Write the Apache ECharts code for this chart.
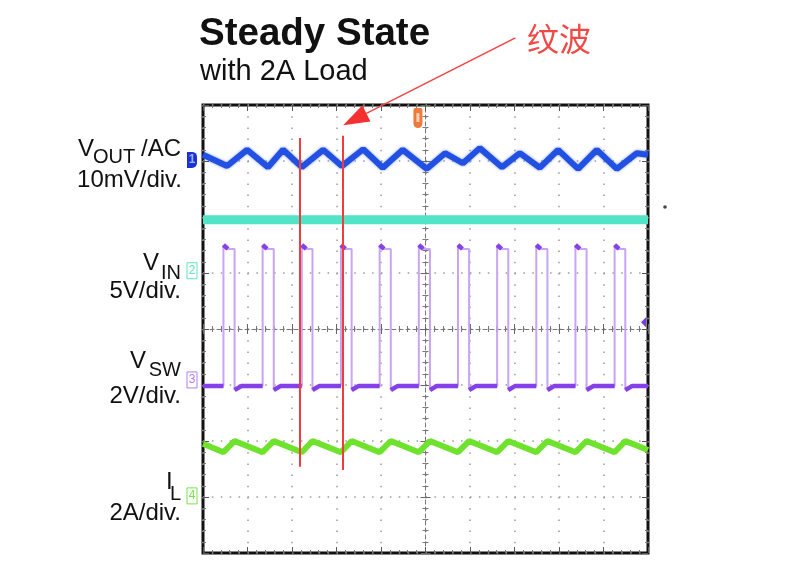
<!DOCTYPE html>
<html>
<head>
<meta charset="utf-8">
<title>Steady State</title>
<script src="https://cdn.jsdelivr.net/npm/echarts@6/dist/echarts.min.js"></script>
<style>
  html, body { margin: 0; padding: 0; background: #fff; }
  #chart { width: 790px; height: 565px; }
</style>
</head>
<body>
<div id="chart"></div>
<script>
// x: divisions from screen centre (10 div wide), y: divisions from centre (8 div tall)
const voutT = [-5.00, -4.46, -4.01, -3.54, -3.20, -2.78, -2.30, -1.88, -1.40, -0.96, -0.51, 0.03,
  0.44, 0.84, 1.22, 1.72, 2.12, 2.57, 2.98, 3.43, 3.85, 4.30, 4.75, 5.00]
const voutY = [3.11, 2.91, 3.20, 2.89, 3.20, 2.89, 3.20, 2.91, 3.21, 2.88, 3.20, 2.86,
  3.14, 2.96, 3.23, 2.89, 3.14, 2.88, 3.20, 2.86, 3.20, 2.86, 3.14, 3.11]
const vinLevel = 1.95

// switch node edges
const swRise = [-4.54, -3.66, -2.78, -1.90, -1.03, -0.15, 0.73, 1.61, 2.49, 3.37, 4.25]
const swFall = [-4.29, -3.41, -2.54, -1.66, -0.78, 0.10, 0.98, 1.86, 2.74, 3.62, 4.49]
const swLow = -1.02, swHigh = 1.43, swSpike = 1.50, swUnder = -1.09

// inductor current
const ilPeak = -2.00, ilValley = -2.20, ilStart = -2.05, ilEnd = -2.16

// channel reference markers 1..4
const chRef = [3.02, 1.04, -0.91, -2.98]

// red cursors + arrow
const cursorX = [-2.82, -1.85]
const cursorTop = [3.41, 3.45]
const cursorBottom = [-2.46, -2.52]
const arrowTip = [-1.85, 3.64]
const arrowTail = [2.02, 5.20]

const chart = echarts.init(document.getElementById('chart'))

const voutData = voutT.map((t, i) => [t, voutY[i]])
const vinData = [[-5, vinLevel], [5, vinLevel]]

const swLine = [[-5, swLow]]
swRise.forEach((r, i) => {
  const f = swFall[i]
  swLine.push([r, swLow], [r, swSpike], [r + 0.06, swHigh], [f, swHigh], [f, swUnder], [f + 0.15, swLow])
})
swLine.push([5, swLow])

// bold parts of the switch trace (flat low + top corner)
const swBold = [[-5, swLow], [swRise[0], swLow], [swRise[0], null]]
swRise.forEach((r, i) => {
  const f = swFall[i]
  const next = i + 1 < swRise.length ? swRise[i + 1] : 5
  swBold.push([r, swSpike], [r + 0.1, swHigh], [r + 0.1, null])
  swBold.push([f, swUnder], [f + 0.15, swLow], [next, swLow], [next, null])
})

const ilData = [[-5, ilStart]]
swRise.forEach((r, i) => {
  ilData.push([r, ilValley], [swFall[i], ilPeak])
})
ilData.push([5, ilEnd])

const dotGrid = { color: '#9a9a9a', width: 1.5 }
const frameTick = { show: true, inside: true, length: 6, lineStyle: { color: '#555', width: 1 } }
const frameMinor = { show: true, splitNumber: 5, length: 3, lineStyle: { color: '#777', width: 1 } }

function frameAxis(pos, split) {
  const vertical = pos === 'left' || pos === 'right'
  return {
    type: 'value', min: vertical ? -4 : -5, max: vertical ? 4 : 5, interval: 1, position: pos,
    axisLine: { show: false, onZero: false },
    axisTick: frameTick, minorTick: frameMinor,
    axisLabel: { show: false },
    splitLine: split
  }
}
function centreAxis(dim, inside, showLine) {
  return {
    type: 'value', min: dim === 'y' ? -4 : -5, max: dim === 'y' ? 4 : 5, interval: 1,
    position: dim === 'y' ? 'left' : 'bottom',
    axisLine: { show: showLine, onZero: true, lineStyle: { color: '#777', width: 1, type: [4, 3] } },
    axisTick: { show: true, inside: inside, length: 5, lineStyle: { color: '#666', width: 1 } },
    minorTick: { show: true, splitNumber: 5, length: 3, lineStyle: { color: '#777', width: 1 } },
    axisLabel: { show: false },
    splitLine: { show: false }
  }
}

chart.setOption({
  animation: false,
  backgroundColor: '#fff',
  grid: {
    left: 203, right: 142, top: 105, bottom: 12,
    show: true, borderColor: '#111', borderWidth: 3, backgroundColor: '#fff'
  },
  xAxis: [
    frameAxis('bottom', { show: true, lineStyle: Object.assign({ type: [1.5, 9.7] }, dotGrid) }),
    frameAxis('top', { show: false }),
    centreAxis('x', true, true),
    centreAxis('x', false, false)
  ],
  yAxis: [
    frameAxis('left', { show: true, lineStyle: Object.assign({ type: [1.5, 7.4] }, dotGrid) }),
    frameAxis('right', { show: false }),
    centreAxis('y', true, true),
    centreAxis('y', false, false)
  ],
  series: [
    {
      name: 'VIN', type: 'line', data: vinData, symbol: 'none', silent: true,
      lineStyle: { color: '#52e4c6', width: 9 }
    },
    {
      name: 'VOUT', type: 'line', data: voutData, symbol: 'none', silent: true,
      lineStyle: { color: '#2150e2', width: 6, shadowColor: 'rgba(40,80,230,0.6)', shadowBlur: 3 }
    },
    {
      name: 'VSW', type: 'line', data: swLine, symbol: 'none', silent: true,
      lineStyle: { color: '#c9a4f4', width: 2 }
    },
    {
      name: 'VSW bold', type: 'line', data: swBold, symbol: 'none', silent: true, connectNulls: false,
      lineStyle: { color: '#8640ea', width: 4.5 }
    },
    {
      name: 'IL', type: 'line', data: ilData, symbol: 'none', silent: true,
      lineStyle: { color: '#6fe22e', width: 6 },
      markLine: {
        silent: true, symbol: ['none', 'none'], animation: false,
        label: { show: false },
        lineStyle: { color: '#f23b3b', width: 2, type: 'solid' },
        data: cursorX.map((x, i) => [{ coord: [x, cursorTop[i]] }, { coord: [x, cursorBottom[i]] }])
      }
    }
  ]
})

// annotations placed from data coordinates
const px = p => chart.convertToPixel({ xAxisIndex: 0, yAxisIndex: 0 }, p)
const tip = px(arrowTip)
const tail = px(arrowTail)
const dx = tip[0] - tail[0], dy = tip[1] - tail[1]
const len = Math.sqrt(dx * dx + dy * dy)
const ux = dx / len, uy = dy / len
const base = [tip[0] - ux * 26, tip[1] - uy * 26]
const head = [tip, [base[0] - uy * 9, base[1] + ux * 9], [base[0] + uy * 9, base[1] - ux * 9]]

const labelFont = '24px "Liberation Sans", Arial, sans-serif'
const subFont = '20px "Liberation Sans", Arial, sans-serif'
function txt(text, x, y, font, align, color) {
  return {
    type: 'text', x: x, y: y, silent: true, z: 10,
    style: {
      text: text, font: font, fill: color || '#111',
      align: align || 'left', textAlign: align || 'left',
      verticalAlign: 'middle', textVerticalAlign: 'middle'
    }
  }
}

const chColors = ['#1a33d4', '#5fe2c4', '#b27cf2', '#78e04a']
const markers = []
chRef.forEach((v, i) => {
  const y = px([-5, v])[1]
  if (i === 0) {
    markers.push({ type: 'rect', silent: true, z: 10, shape: { x: 187, y: y - 8, width: 10, height: 16, r: [0, 5, 5, 0] }, style: { fill: chColors[0] } })
    markers.push(txt('1', 192, y, 'bold 12px "Liberation Sans", Arial', 'center', '#9fb2ff'))
  } else {
    markers.push({ type: 'rect', silent: true, z: 10, shape: { x: 187, y: y - 8, width: 10, height: 16 }, style: { fill: '#fff', stroke: chColors[i], lineWidth: 1 } })
    markers.push(txt(String(i + 1), 192, y, '12px "Liberation Sans", Arial', 'center', chColors[i]))
  }
})

const trig = px([-0.17, 3.8])
const level = px([5, 0.12])

chart.setOption({
  graphic: [
    txt('Steady State', 199, 34, 'bold 38.5px "Liberation Sans", Arial, sans-serif', 'left', '#111'),
    txt('with 2A Load', 200, 72, '29px "Liberation Sans", Arial, sans-serif', 'left', '#111'),
    txt('纹波', 527, 39, '32px "Noto Sans CJK SC", sans-serif', 'left', '#ef4a45'),

    txt('V', 78, 149, labelFont), txt('OUT', 93, 157, subFont), txt('/AC', 181, 149, labelFont, 'right'),
    txt('10mV/div.', 182, 180, labelFont, 'right'),
    txt('V', 143, 263, labelFont), txt('IN', 181, 273, subFont, 'right'),
    txt('5V/div.', 181, 291, labelFont, 'right'),
    txt('V', 130, 361, labelFont), txt('SW', 181, 370, subFont, 'right'),
    txt('2V/div.', 181, 396, labelFont, 'right'),
    txt('I', 166, 482, labelFont), txt('L', 181, 494, subFont, 'right'),
    txt('2A/div.', 181, 513, labelFont, 'right'),

    ...markers,

    { type: 'line', silent: true, z: 10, shape: { x1: tail[0], y1: tail[1], x2: base[0], y2: base[1] }, style: { stroke: '#f04444', lineWidth: 1.5 } },
    { type: 'polygon', silent: true, z: 10, shape: { points: head }, style: { fill: '#f53030' } },

    { type: 'rect', silent: true, z: 10, shape: { x: trig[0] - 4.5, y: 108, width: 9, height: 20, r: [2, 2, 5, 5] }, style: { fill: '#f07a3c' } },
    { type: 'rect', silent: true, z: 11, shape: { x: trig[0] - 1.5, y: 113, width: 3, height: 9 }, style: { fill: '#fbd2b8' } },
    { type: 'polygon', silent: true, z: 10, shape: { points: [[level[0] - 7, level[1]], [level[0] - 2, level[1] - 5], [level[0] - 2, level[1] + 5]] }, style: { fill: '#7a3ae0' } },
    { type: 'circle', silent: true, z: 10, shape: { cx: 665, cy: 207, r: 1.8 }, style: { fill: '#444' } }
  ]
})
</script>
</body>
</html>
